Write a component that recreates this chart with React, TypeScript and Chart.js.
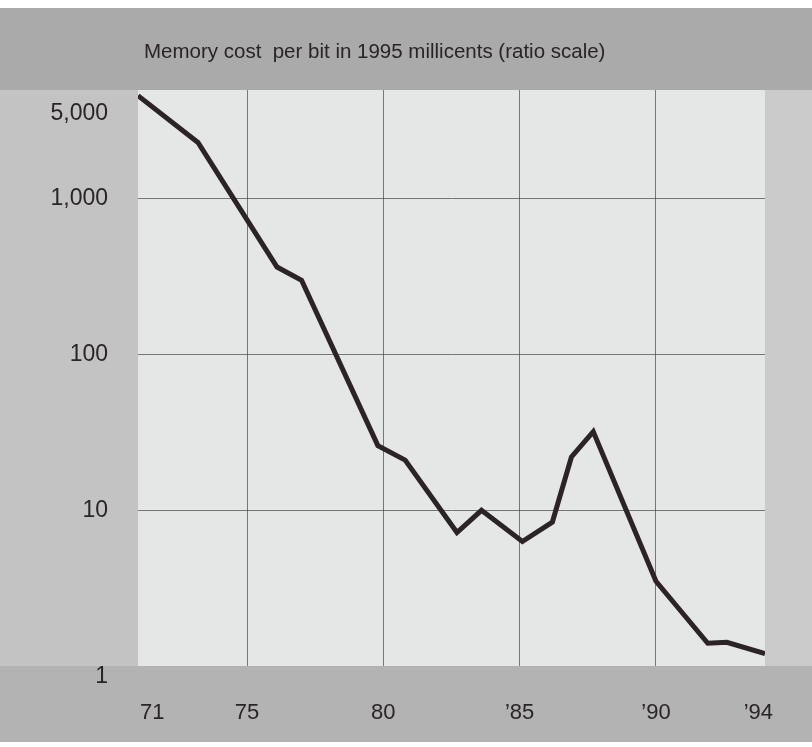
import React, { useEffect, useRef } from 'react';
import { Chart, registerables } from 'chart.js';

Chart.register(...registerables);

const TITLE = 'Memory cost  per bit in 1995 millicents (ratio scale)';
const years = [71, 73.2, 76.1, 77, 79.8, 80.8, 82.7, 83.6, 85.1, 86.2, 86.9, 87.7, 90, 91.9, 92.6, 94];
const costs = [4600, 2300, 365, 300, 26, 21, 7.2, 10, 6.3, 8.4, 22, 32, 3.5, 1.4, 1.42, 1.2];
const xTicks = [71, 75, 80, 85, 90, 94];
const xTickLabels = ['71', '75', '80', '\u201985', '\u201990', '\u201994'];
const yTicks = [1, 10, 100, 1000, 5000];
const yTickLabels = ['1', '10', '100', '1,000', '5,000'];

const W = 812;
const H = 747;
const FONT = '"Liberation Sans", Arial, sans-serif';
const TEXT = '#2b2426';

const decor = {
  id: 'decor',
  beforeDraw(chart: any) {
    const { ctx, chartArea: a } = chart;
    ctx.save();
    ctx.fillStyle = '#ffffff';
    ctx.fillRect(0, 0, W, H);
    ctx.fillStyle = '#bdbdbd';
    ctx.fillRect(0, 8, W, 742 - 8);
    ctx.fillStyle = '#aaaaaa';
    ctx.fillRect(0, 8, W, a.top - 8);
    ctx.fillStyle = '#c3c3c3';
    ctx.fillRect(0, a.top, a.left, a.bottom - a.top);
    ctx.fillStyle = '#cbcbcb';
    ctx.fillRect(a.right, a.top, W - a.right, a.bottom - a.top);
    ctx.fillStyle = '#b3b3b3';
    ctx.fillRect(0, a.bottom, W, 742 - a.bottom);
    ctx.fillStyle = '#e5e7e7';
    ctx.fillRect(a.left, a.top, a.right - a.left, a.bottom - a.top);
    ctx.restore();
  },
  afterDraw(chart: any) {
    const { ctx, chartArea: a } = chart;
    const xs = chart.scales.x;
    const ys = chart.scales.y;
    ctx.save();
    ctx.fillStyle = TEXT;
    // title
    ctx.font = `20.5px ${FONT}`;
    ctx.textAlign = 'left';
    ctx.textBaseline = 'middle';
    ctx.fillText(TITLE, a.left + 6, 52);
    // y labels
    ctx.font = `23px ${FONT}`;
    ctx.textAlign = 'right';
    yTicks.forEach((v, i) => {
      let y = ys.getPixelForValue(v);
      if (i === yTicks.length - 1) y += 24;
      if (i === 0) y += 11;
      ctx.fillText(yTickLabels[i], a.left - 30, y);
    });
    // x labels
    ctx.font = `22px ${FONT}`;
    xTicks.forEach((v, i) => {
      let x = xs.getPixelForValue(v);
      if (i === 0) {
        ctx.textAlign = 'left';
        x += 2;
      } else if (i === xTicks.length - 1) {
        ctx.textAlign = 'right';
        x += 8;
      } else {
        ctx.textAlign = 'center';
      }
      ctx.fillText(xTickLabels[i], x, 713);
    });
    ctx.restore();
  },
};

export default function App() {
  const ref = useRef<HTMLCanvasElement | null>(null);
  useEffect(() => {
    if (!ref.current) return;
    const chart = new Chart(ref.current, {
      type: 'line',
      data: {
        datasets: [
          {
            data: years.map((yr, i) => ({ x: yr, y: costs[i] })),
            borderColor: '#2b2326',
            borderWidth: 5,
            pointRadius: 0,
            tension: 0,
            fill: false,
            borderJoinStyle: 'miter',
          },
        ],
      },
      options: {
        responsive: false,
        animation: false,
        devicePixelRatio: 1,
        layout: { padding: { left: 138, right: 47, top: 90, bottom: 81 } },
        plugins: { legend: { display: false }, tooltip: { enabled: false }, title: { display: false } },
        scales: {
          x: {
            type: 'linear',
            min: 71,
            max: 94,
            afterBuildTicks: (s: any) => {
              s.ticks = xTicks.map((v) => ({ value: v }));
            },
            ticks: { display: false },
            border: { display: false },
            grid: {
              drawTicks: false,
              lineWidth: 1,
              color: (c: any) =>
                c.tick && (c.tick.value === 71 || c.tick.value === 94) ? 'rgba(0,0,0,0)' : 'rgba(70,70,70,0.7)',
            },
          },
          y: {
            type: 'logarithmic',
            min: 1,
            max: 5000,
            afterBuildTicks: (s: any) => {
              s.ticks = yTicks.map((v) => ({ value: v }));
            },
            ticks: { display: false },
            border: { display: false },
            grid: {
              drawTicks: false,
              lineWidth: 1,
              color: (c: any) =>
                c.tick && (c.tick.value === 1 || c.tick.value === 5000) ? 'rgba(0,0,0,0)' : 'rgba(70,70,70,0.7)',
            },
          },
        },
      },
      plugins: [decor],
    });
    return () => chart.destroy();
  }, []);
  return (
    <div style={{ position: 'fixed', left: 0, top: 0, width: W, height: H, overflow: 'hidden' }}>
      <canvas ref={ref} width={W} height={H} style={{ display: 'block', width: W, height: H }} />
    </div>
  );
}
